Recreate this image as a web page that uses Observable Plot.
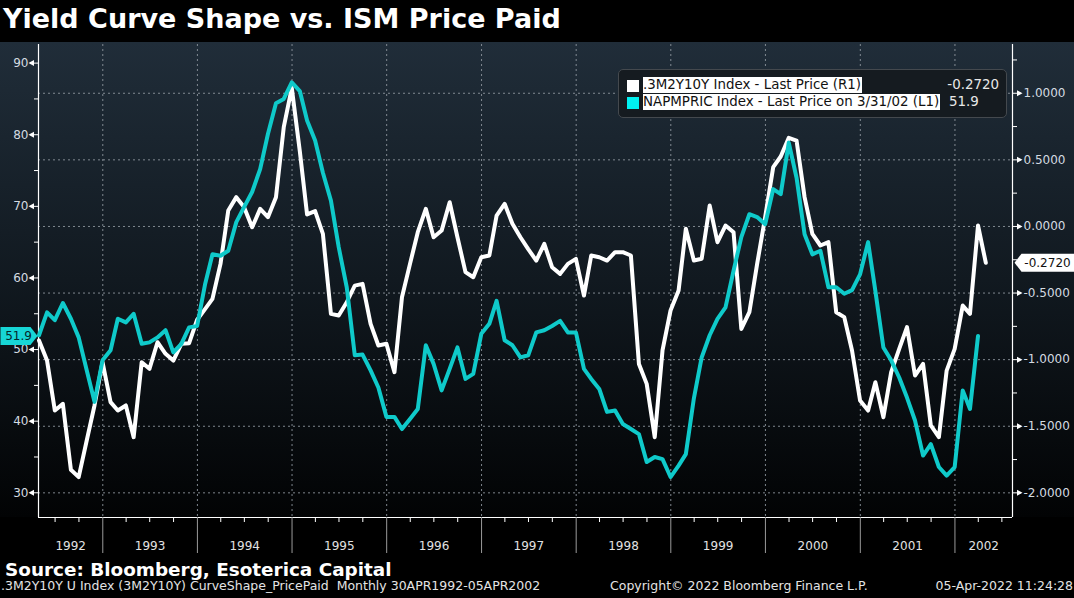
<!DOCTYPE html>
<html><head><meta charset="utf-8">
<script src="https://cdn.jsdelivr.net/npm/d3@7"></script>
<script src="https://cdn.jsdelivr.net/npm/@observablehq/plot@0.6"></script>
<style>
html,body{margin:0;padding:0;background:#000;}
#wrap{position:relative;width:1074px;height:598px;background:#000;overflow:hidden;font-family:"DejaVu Sans",sans-serif;}
#bg{position:absolute;left:0;top:42px;width:1074px;height:475px;background:linear-gradient(to bottom,#202d39 0%,#111920 50%,#020304 100%);}
#title{position:absolute;left:3px;top:3px;color:#fff;font-weight:bold;font-size:27px;line-height:32px;white-space:nowrap;}
#chart{position:absolute;left:0;top:42px;}
#legend{position:absolute;left:618px;top:69px;width:387px;height:47px;background:#151b20;border:1px solid #44494e;border-radius:5px;font-size:13.4px;}
#legend .sw{position:absolute;left:8px;width:12px;height:12px;}
#legend .lab{position:absolute;left:24px;height:16px;line-height:16px;background:#fff;color:#111;padding-right:1px;white-space:nowrap;}
#legend .val{position:absolute;height:16px;line-height:16px;color:#e8e8e8;white-space:nowrap;}
#source{position:absolute;left:5px;top:559px;color:#fff;font-weight:bold;font-size:18.4px;line-height:21px;white-space:nowrap;}
.foot{position:absolute;top:578px;color:#e4e4e4;font-size:12.5px;line-height:16px;white-space:pre;}
</style>
</head><body>
<div id="wrap">
  <div id="bg"></div>
  <div id="title">Yield Curve Shape vs. ISM Price Paid</div>
  <div id="chart"></div>
  <div id="legend">
    <div class="sw" style="top:10px;background:#fff"></div>
    <div class="lab" style="top:7px">.3M2Y10Y Index - Last Price (R1)</div>
    <div class="val" id="v1" style="top:7px;right:7px"></div>
    <div class="sw" style="top:27px;background:#00f0f0"></div>
    <div class="lab" style="top:24px">NAPMPRIC Index - Last Price on 3/31/02 (L1)</div>
    <div class="val" id="v2" style="top:24px;left:330px"></div>
  </div>
  <div id="source">Source: Bloomberg, Esoterica Capital</div>
  <div class="foot" style="left:1px">.3M2Y10Y U Index (3M2Y10Y) CurveShape_PricePaid  Monthly 30APR1992-05APR2002</div>
  <div class="foot" style="left:610px">Copyright© 2022 Bloomberg Finance L.P.</div>
  <div class="foot" style="right:1px">05-Apr-2022 11:24:28</div>
</div>
<script>
// ---- data (monthly, month-end, starting April 1992) ----
const startYear = 1992, startMonth = 4; // April
// 3M2Y10Y curve shape index (right axis), Apr 1992 .. Apr 2002
const curveShape = [
  -0.856, -1.007, -1.382, -1.332, -1.827, -1.882, -1.607, -1.344, -1.019, -1.319,
  -1.382, -1.344, -1.582, -1.019, -1.069, -0.869, -0.956, -1.007, -0.881, -0.876,
  -0.700, -0.619, -0.544, -0.281, 0.120, 0.220, 0.145, -0.006, 0.132, 0.070,
  0.220, 0.745, 1.040, 0.565, 0.090, 0.115, -0.056, -0.656, -0.669, -0.569,
  -0.444, -0.431, -0.731, -0.894, -0.881, -1.094, -0.531, -0.281, -0.043, 0.132,
  -0.081, -0.031, 0.182, -0.081, -0.343, -0.381, -0.231, -0.218, 0.082, 0.170,
  0.020, -0.081, -0.170, -0.256, -0.131, -0.306, -0.356, -0.281, -0.243, -0.519,
  -0.218, -0.231, -0.256, -0.193, -0.193, -0.218, -1.032, -1.182, -1.582, -0.931,
  -0.631, -0.481, -0.018, -0.256, -0.243, 0.157, -0.118, 0.007, -0.043, -0.769,
  -0.644, -0.281, 0.070, 0.445, 0.525, 0.665, 0.645, 0.220, -0.056, -0.143,
  -0.118, -0.644, -0.681, -0.931, -1.307, -1.382, -1.169, -1.432, -1.094, -0.919,
  -0.756, -1.119, -1.032, -1.494, -1.582, -1.082, -0.919, -0.594, -0.656, 0.007,
  -0.272
];
// NAPMPRIC ISM prices paid (left axis), Apr 1992 .. Mar 2002
const pricesPaid = [
  52.0, 55.2, 54.1, 56.5, 54.3, 51.7, 47.1, 42.7, 48.5, 49.9,
  54.3, 53.8, 55.0, 50.8, 51.0, 51.7, 52.7, 49.6, 50.8, 53.1,
  53.3, 59.2, 63.3, 63.1, 63.8, 67.8, 69.9, 72.0, 75.2, 80.1,
  84.4, 85.0, 87.3, 86.1, 82.0, 79.2, 74.7, 70.8, 64.3, 58.7,
  49.2, 49.3, 47.1, 44.7, 40.6, 40.6, 38.9, 40.3, 41.7, 50.6,
  48.0, 44.3, 47.3, 50.3, 45.9, 46.6, 52.2, 53.6, 56.8, 51.3,
  50.6, 48.9, 49.2, 52.4, 52.7, 53.3, 54.0, 52.4, 52.4, 47.3,
  45.9, 44.5, 41.3, 41.5, 39.6, 38.9, 38.2, 34.3, 35.0, 34.7,
  32.2, 33.8, 35.4, 43.2, 48.9, 52.0, 54.3, 55.9, 61.0, 65.7,
  68.9, 68.5, 67.5, 72.4, 71.7, 78.9, 74.0, 66.1, 63.3, 63.8,
  58.7, 58.7, 57.8, 58.3, 60.5, 65.0, 58.2, 50.3, 48.5, 46.1,
  43.3, 40.1, 35.2, 36.8, 33.6, 32.4, 33.6, 44.3, 41.7, 51.9
];
const leftTicks = [30, 40, 50, 60, 70, 80, 90];
const leftMinor = [35, 45, 55, 65, 75, 85];
const rightTicks = [-2.0, -1.5, -1.0, -0.5, 0.0, 0.5, 1.0];
const rightMinor = [-1.75, -1.25, -0.75, -0.25, 0.25, 0.75, 1.25];
const leftDomain = [26.55, 92.6];
const rightDomain = [-2.185, 1.366];
const xDomain = [new Date(Date.UTC(1992, 3, 28)), new Date(Date.UTC(2002, 7, 11))];

// ---- derived ----
const monthEnd = i => new Date(Date.UTC(startYear, startMonth + i, 0));
const k = (leftDomain[1] - leftDomain[0]) / (rightDomain[1] - rightDomain[0]);
const toLeft = r => leftDomain[0] + (r - rightDomain[0]) * k;
const fromLeft = v => rightDomain[0] + (v - leftDomain[0]) / k;
const fmtR = v => { let r = Math.round(fromLeft(v) * 1e4) / 1e4; return (r === 0 ? 0 : r).toFixed(4); };

const curveData = curveShape.map((r, i) => ({date: monthEnd(i), v: toLeft(r)}));
const ppData = pricesPaid.map((v, i) => ({date: monthEnd(i), v}));
const lastCurve = curveShape[curveShape.length - 1];
const lastPP = pricesPaid[pricesPaid.length - 1];

const yearStarts = d3.utcYear.range(xDomain[0], xDomain[1]);
const quarters = d3.utcMonth.every(3).range(xDomain[0], xDomain[1]).filter(d => d.getUTCMonth() !== 0);
const yearMids = d3.range(1992, 2003).map(y => {
  const a = Math.max(+new Date(Date.UTC(y, 0, 1)), +xDomain[0]);
  const b = Math.min(+new Date(Date.UTC(y + 1, 0, 1)), +xDomain[1]);
  return new Date((a + b) / 2);
});

const triLeft = {draw(c) { c.moveTo(-3, 0); c.lineTo(2.5, -3); c.lineTo(2.5, 3); c.closePath(); }};
const triRight = {draw(c) { c.moveTo(3, 0); c.lineTo(-2.5, -3); c.lineTo(-2.5, 3); c.closePath(); }};
const tagLeft = {draw(c) { c.moveTo(-38, -9); c.lineTo(-8, -9); c.lineTo(-1, 0); c.lineTo(-8, 9); c.lineTo(-38, 9); c.closePath(); }};
const tagRight = {draw(c) { c.moveTo(2, 0); c.lineTo(9, -9); c.lineTo(62, -9); c.lineTo(62, 9); c.lineTo(9, 9); c.closePath(); }};

const labelColor = "#d4dbe1";
const gridStyle = {stroke: "#8d959c", strokeOpacity: 0.9, strokeDasharray: "2,3"};

const chart = Plot.plot({
  width: 1074, height: 514,
  marginTop: 2, marginBottom: 39, marginLeft: 38, marginRight: 62,
  style: {background: "transparent", color: labelColor, fontFamily: "DejaVu Sans, sans-serif", fontSize: "12px", overflow: "visible"},
  x: {type: "utc", domain: xDomain},
  y: {domain: leftDomain},
  marks: [
    Plot.gridX(yearStarts, gridStyle),
    Plot.gridY(rightTicks.map(toLeft), gridStyle),
    // axes frame
    Plot.ruleX(xDomain, {stroke: "#ffffff", strokeWidth: 1.2}),
    Plot.ruleY([leftDomain[0]], {stroke: "#ffffff", strokeWidth: 1.2}),
    // x axis
    Plot.axisX(yearStarts, {anchor: "bottom", tickSize: 36, tickFormat: () => "", stroke: "#9a9a9a", label: null}),
    Plot.axisX(quarters, {anchor: "bottom", tickSize: 5, tickFormat: () => "", stroke: "#ffffff", label: null}),
    Plot.axisX(yearMids, {anchor: "bottom", tickSize: 0, tickPadding: 24, tickFormat: d => String(d.getUTCFullYear()), fill: "#e2e2e2", fontSize: 12, label: null}),
    // left axis
    Plot.axisY(leftTicks, {anchor: "left", tickSize: 8, tickPadding: 2, stroke: "#ffffff", fill: labelColor, fontSize: 12, label: null}),
    Plot.axisY(leftMinor, {anchor: "left", tickSize: 4, tickFormat: () => "", stroke: "#ffffff", label: null}),
    Plot.dot(leftTicks, {y: d => d, frameAnchor: "left", dx: -7, symbol: triLeft, fill: "#ffffff"}),
    // right axis
    Plot.axisY(rightTicks.map(toLeft), {anchor: "right", tickSize: 8, tickPadding: 3, tickFormat: fmtR, stroke: "#ffffff", fill: labelColor, fontSize: 12, label: null}),
    Plot.axisY(rightMinor.map(toLeft), {anchor: "right", tickSize: 4, tickFormat: () => "", stroke: "#ffffff", label: null}),
    Plot.dot(rightTicks.map(toLeft), {y: d => d, frameAnchor: "right", dx: 7, symbol: triRight, fill: "#ffffff"}),
    // series
    Plot.line(curveData, {x: "date", y: "v", stroke: "#ffffff", strokeWidth: 4}),
    Plot.line(ppData, {x: "date", y: "v", stroke: "#0fcaca", strokeWidth: 4}),
    // last value tags
    Plot.dot([lastPP], {y: d => d, frameAnchor: "left", symbol: tagLeft, fill: "#17d6d6"}),
    Plot.text([lastPP], {y: d => d, frameAnchor: "left", dx: -20, text: d => d.toFixed(1), fill: "#05272b", fontSize: 12, textAnchor: "middle"}),
    Plot.dot([toLeft(lastCurve)], {y: d => d, frameAnchor: "right", symbol: tagRight, fill: "#ffffff"}),
    Plot.text([toLeft(lastCurve)], {y: d => d, frameAnchor: "right", dx: 35, text: () => lastCurve.toFixed(4), fill: "#111111", fontSize: 12, textAnchor: "middle"})
  ]
});
document.getElementById("chart").appendChild(chart);
document.getElementById("v1").textContent = lastCurve.toFixed(4);
document.getElementById("v2").textContent = lastPP.toFixed(1);
</script>
</body></html>
